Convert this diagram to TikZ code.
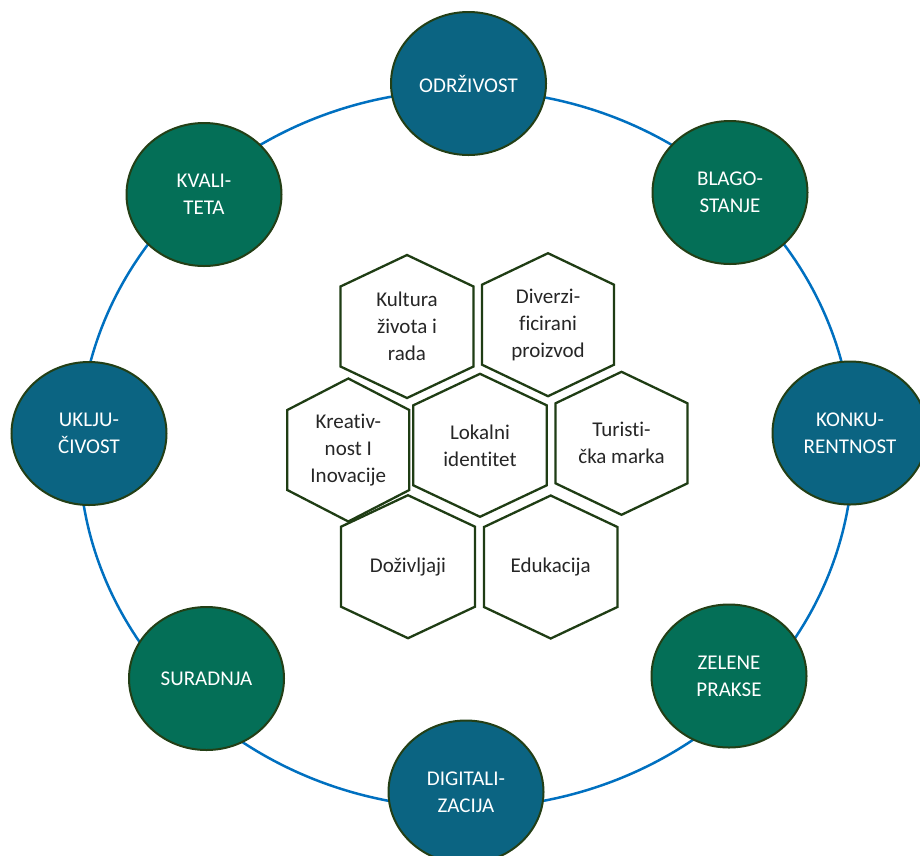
\documentclass[tikz,border=0pt]{standalone}
\usepackage{fontspec}
\setmainfont{Carlito}[Ligatures=NoCommon]
\usetikzlibrary{shapes.geometric}

\definecolor{ringblue}{HTML}{0070C0}
\definecolor{tealfill}{HTML}{0B6482}
\definecolor{greenfill}{HTML}{046F57}
\definecolor{darkrim}{HTML}{233F16}
\definecolor{hexrim}{HTML}{1F3D14}

\begin{document}
\begin{tikzpicture}[x=1pt, y=-1pt,
  every node/.style = {align=center, font=\fontsize{21}{27}\selectfont},
  pillar/.style = {shape=ellipse, draw=darkrim, line width=2pt,
    minimum width=155pt, minimum height=143pt, inner sep=0pt, text=white},
  tealpillar/.style = {pillar, fill=tealfill},
  greenpillar/.style = {pillar, fill=greenfill},
  hexline/.style = {draw=hexrim, line width=2.3pt, fill=white, line join=miter},
  hextext/.style = {text=black!85, inner sep=0pt}]
  \useasboundingbox (0,0) rectangle (920,855);

  % ring behind the pillars
  \draw[ringblue, line width=2.5pt] (466,449) ellipse [x radius=387, y radius=359];

  % outer pillars
  \node[tealpillar]  (odrzivost)   at (468.5,83.5) {ODRŽIVOST};
  \node[greenpillar] (blagostanje) at (730,192.5)  {BLAGO-\\STANJE};
  \node[tealpillar]  (konkurent)   at (850,433)    {KONKU-\\RENTNOST};
  \node[greenpillar] (zelene)      at (729,676)    {ZELENE\\PRAKSE};
  \node[tealpillar]  (digital)     at (466,792)    {DIGITALI-\\ZACIJA};
  \node[greenpillar] (suradnja)    at (206.5,678.5) {SURADNJA};
  \node[tealpillar]  (ukljucivost) at (89,433.5)   {UKLJU-\\ČIVOST};
  \node[greenpillar] (kvaliteta)   at (204,194.5)  {KVALI-\\TETA};

  % honeycomb in the middle
  \foreach \name/\cx/\cy/\hw/\txt in {
      kultura/407/326.5/66.5/{Kultura\\života i\\rada},
      diverzi/548/324.7/66/{Diverzi-\\ficirani\\proizvod},
      dozivljaji/408/566.7/67/{Doživljaji},
      kreativnost/348.3/450/61/{Kreativ-\\nost I\\Inovacije},
      lokalni/480/445.3/66.7/{Lokalni\\identitet},
      turisticka/621.5/443.3/66/{Turisti-\\čka marka},
      edukacija/550.7/567/66.7/{Edukacija}}
  {
    \draw[hexline] (\cx,{\cy-71.5}) -- ({\cx+\hw},{\cy-40}) -- ({\cx+\hw},{\cy+40})
      -- (\cx,{\cy+71.5}) -- ({\cx-\hw},{\cy+40}) -- ({\cx-\hw},{\cy-40}) -- cycle;
    \node[hextext] (\name) at (\cx,\cy) {\txt};
  }
\end{tikzpicture}
\end{document}
